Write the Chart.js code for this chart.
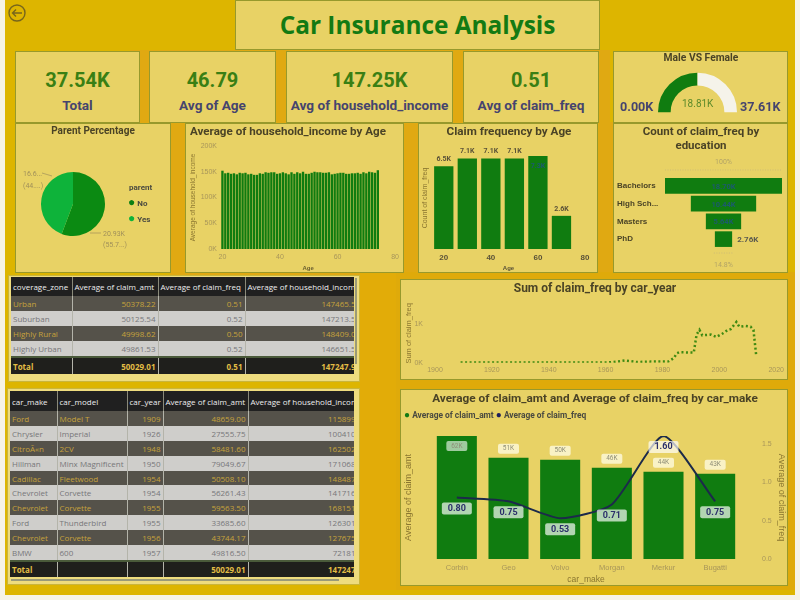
<!DOCTYPE html>
<html>
<head>
<meta charset="utf-8">
<title>Car Insurance Analysis</title>
<script src="https://cdn.jsdelivr.net/npm/chart.js@4.4.1/dist/chart.umd.min.js"></script>
<style>
  html, body { margin: 0; padding: 0; background: #f6f3e6; }
  body { width: 800px; height: 600px; position: relative; overflow: hidden; font-family: Roboto, sans-serif; }
  .abs { position: absolute; }
  .panel { position: absolute; box-sizing: border-box; background: #e8d265; border: 1px solid #97992c; }
  .panel canvas { position: absolute; left: 0; top: 0; }
  .title { position: absolute; white-space: nowrap; transform: translateX(-50%); font-weight: 700; color: #4a4326; text-align: center; line-height: 14px; }
  .kpi-num { position: absolute; left: 0; right: 0; text-align: center; top: 16px; font-weight: 700; font-size: 20px; color: #3a7f14; }
  .kpi-lab { position: absolute; left: 0; right: 0; text-align: center; top: 45px; font-weight: 700; font-size: 13.6px; color: #45446e; white-space: nowrap; }
  .txt { position: absolute; white-space: nowrap; }
  .tbl-wrap { position: absolute; overflow: hidden; }
  table { border-collapse: collapse; table-layout: fixed; font-size: 8px; font-family: "Open Sans", sans-serif; }
  td, th { padding: 0 2px; overflow: hidden; white-space: nowrap; box-sizing: border-box; font-weight: 400; }
  th { background: #202020; color: #eeeeee; text-align: left; border-right: 1px solid #8a8a7a; font-weight: 400; }
  td { border-right: 1px solid #b4b4aa; text-align: right; }
  td.l { text-align: left; }
  tr.dark td { background: #55524a; color: #c6a23c; }
  tr.light td { background: #cfcecb; color: #77777a; }
  tr.tot td { background: #1f1f1c; color: #e2bd45; font-weight: 700; }
</style>
</head>
<body>
<div class="abs" style="left:5px;top:0;width:790px;height:595px;background:#ddb500"></div>
<div class="abs" style="left:130px;top:50px;width:480px;height:75px;background:#e0a912"></div>
<div class="abs" style="left:170px;top:122px;width:450px;height:153px;background:#e0a912"></div>
<div class="abs" style="left:360px;top:272px;width:36px;height:318px;background:#e2ac08"></div>
<div class="abs" style="left:396px;top:272px;width:399px;height:318px;background:#dfaa0a"></div>

<svg class="abs" style="left:7px;top:3px" width="20" height="20" viewBox="0 0 20 20">
  <circle cx="10" cy="10" r="8" fill="none" stroke="#77661c" stroke-width="1.4"/>
  <path d="M15 10H5.5M9 6.5L5.5 10L9 13.5" fill="none" stroke="#77661c" stroke-width="1.4"/>
</svg>

<div class="panel" style="left:235px;top:0;width:365px;height:50px">
  <div class="txt" style="left:0;right:0;top:7px;text-align:center;font:700 24.4px 'Open Sans',sans-serif;color:#137a13">Car Insurance Analysis</div>
</div>

<div class="panel" style="left:15px;top:51px;width:125px;height:72px"><div class="kpi-num">37.54K</div><div class="kpi-lab">Total</div></div>
<div class="panel" style="left:149px;top:51px;width:127px;height:72px"><div class="kpi-num">46.79</div><div class="kpi-lab">Avg of Age</div></div>
<div class="panel" style="left:286px;top:51px;width:167px;height:72px"><div class="kpi-num">147.25K</div><div class="kpi-lab">Avg of household_income</div></div>
<div class="panel" style="left:463px;top:51px;width:136px;height:72px"><div class="kpi-num">0.51</div><div class="kpi-lab">Avg of claim_freq</div></div>

<div class="panel" style="left:613px;top:51px;width:175px;height:72px">
  <canvas id="gauge" width="173" height="70"></canvas>
  <div class="title" style="left:87px;top:-1px;font-size:10.3px;line-height:14px">Male VS Female</div>
  <div class="txt" style="left:6px;top:47px;font-weight:700;font-size:12.6px;color:#45446e">0.00K</div>
  <div class="txt" style="left:126px;top:47px;font-weight:700;font-size:12.6px;color:#45446e">37.61K</div>
  <div class="txt" style="left:68px;top:46px;font-size:10px;color:#5c8a2a">18.81K</div>
</div>

<div class="panel" style="left:15px;top:123px;width:156px;height:150px">
  <canvas id="pie" width="154" height="148"></canvas>
  <div class="title" style="left:77px;top:0;font-size:10px">Parent Percentage</div>
  <div class="txt" style="left:113px;top:59px;font-weight:700;font-size:8px;color:#4a4a40">parent</div>
  <div class="txt" style="left:112px;top:71px;font-weight:700;font-size:8px;color:#4a4a40"><span style="color:#0b7f12;font-size:12px">&#9679;</span> No</div>
  <div class="txt" style="left:112px;top:87px;font-weight:700;font-size:8px;color:#4a4a40"><span style="color:#0eb33a;font-size:12px">&#9679;</span> Yes</div>
</div>

<div class="panel" style="left:185px;top:123px;width:219px;height:150px">
  <canvas id="income" width="217" height="148"></canvas>
  <div class="title" style="left:102px;top:0;font-size:11.6px">Average of household_income by Age</div>
</div>

<div class="panel" style="left:418px;top:123px;width:180px;height:150px">
  <canvas id="ageFreq" width="178" height="148"></canvas>
  <div class="title" style="left:90px;top:0;font-size:11.7px">Claim frequency by Age</div>
</div>

<div class="panel" style="left:613px;top:123px;width:175px;height:150px">
  <canvas id="funnel" width="173" height="148"></canvas>
  <div class="title" style="left:87px;top:0;font-size:11.5px">Count of claim_freq by<br>education</div>
</div>

<div class="panel" style="left:8px;top:275px;width:352px;height:107px;background:#eedc7e;border-color:#c9b53c">
  <div class="tbl-wrap" id="zoneWrap" style="left:2px;top:1px;width:343px;height:99px"></div>
  <div class="abs" style="left:346px;top:2px;width:2px;height:86px;background:#9a9a78"></div>
</div>

<div class="panel" style="left:7px;top:388px;width:353px;height:197px;background:#eedc7e;border-color:#c9b53c">
  <div class="tbl-wrap" id="carWrap" style="left:2px;top:2px;width:344px;height:187px"></div>
  <div class="abs" style="left:3px;top:190px;width:328px;height:2px;background:#9a9a78"></div>
</div>

<div class="panel" style="left:400px;top:279px;width:388px;height:101px">
  <canvas id="yearLine" width="386" height="99"></canvas>
  <div class="title" style="left:194px;top:1px;font-size:12px">Sum of claim_freq by car_year</div>
</div>

<div class="panel" style="left:400px;top:389px;width:388px;height:197px">
  <canvas id="combo" width="386" height="195"></canvas>
  <div class="title" style="left:194px;top:1px;font-size:11.8px">Average of claim_amt and Average of claim_freq by car_make</div>
  <div class="txt" style="left:3px;top:19px;font-weight:700;font-size:8.4px;color:#4a4a40"><span style="color:#137a13;font-size:10px">&#9679;</span> Average of claim_amt <span style="color:#1f1f5c;font-size:10px">&#9679;</span> Average of claim_freq</div>
</div>

<script>
const GREEN = '#107c10';
const TICK = '#a8965a';
const AXIS = '#8a7630';
const NOGRID = { display: false, drawTicks: false };

// gauge
const genderValues = [18810, 18800];

// parent pie
const parentLabels = ['No', 'Yes'];
const parentValues = [20930, 16610];

// income by age, 20..74
const incomeAges = [20,21,22,23,24,25,26,27,28,29,30,31,32,33,34,35,36,37,38,39,40,41,42,43,44,45,46,47,48,49,50,51,52,53,54,55,56,57,58,59,60,61,62,63,64,65,66,67,68,69,70,71,72,73,74];
const incomeValues = [152000,147000,148000,146000,147000,145000,148000,147000,148000,145000,146000,144000,144000,147000,146000,149000,148000,149000,149000,146000,147000,149000,147000,145000,149000,146000,149000,147000,150000,146000,146000,148000,150000,149000,149000,148000,148000,149000,145000,146000,147000,148000,148000,146000,146000,147000,147000,148000,146000,149000,147000,150000,149000,148000,153000];
const incomeTicks = [0, 50000, 100000, 150000, 200000];
const ageTicks = [20, 40, 60, 80];

// claim frequency by age bin
const binAges = [20, 30, 40, 50, 60, 70];
const binValues = [6500, 7100, 7100, 7100, 7300, 2600];

// funnel
const eduLabels = ['Bachelors', 'High Sch...', 'Masters', 'PhD'];
const eduValues = [18700, 10440, 5640, 2760];
const eduText = ['18.70K', '10.44K', '5.64K', '2.76K'];

// claim_freq by car_year
const carYears = [1909,1913,1917,1921,1925,1929,1933,1937,1941,1945,1949,1953,1957,1961,1964,1967,1971,1976,1982,1984,1985,1986,1991,1992,1993,1994,1997,1999,2001,2003,2004,2006,2007,2009,2011,2012,2013];
const yearValues = [0.01,0.01,0.01,0.01,0.01,0.01,0.01,0.01,0.01,0.01,0.01,0.01,0.01,0.01,0.03,0.06,0.02,0.03,0.03,0.12,0.24,0.27,0.26,0.72,0.84,0.70,0.72,0.66,0.74,0.84,0.86,1.04,0.92,0.94,0.92,0.84,0.16];
const yearTicks = [1900, 1920, 1940, 1960, 1980, 2000, 2020];

// combo chart
const makes = ['Corbin', 'Geo', 'Volvo', 'Morgan', 'Merkur', 'Bugatti'];
const claimAmt = [62000, 51000, 50000, 46000, 44000, 43000];
const claimFreq = [0.80, 0.75, 0.53, 0.71, 1.60, 0.75];
const freqTicks = [0, 0.5, 1.0, 1.5];

// tables
const zoneHead = ['coverage_zone', 'Average of claim_amt', 'Average of claim_freq', 'Average of household_income'];
const zones = ['Urban', 'Suburban', 'Highly Rural', 'Highly Urban'];
const zoneAmt = ['50378.22', '50125.54', '49998.62', '49861.53'];
const zoneFreq = ['0.51', '0.52', '0.50', '0.52'];
const zoneIncome = ['147465.5', '147213.5', '148409.0', '146651.5'];
const zoneTotal = ['Total', '50029.01', '0.51', '147247.9'];

const carHead = ['car_make', 'car_model', 'car_year', 'Average of claim_amt', 'Average of household_income'];
const carMakes = ['Ford', 'Chrysler', 'CitroÃ«n', 'Hillman', 'Cadillac', 'Chevrolet', 'Chevrolet', 'Ford', 'Chevrolet', 'BMW'];
const carModels = ['Model T', 'Imperial', '2CV', 'Minx Magnificent', 'Fleetwood', 'Corvette', 'Corvette', 'Thunderbird', 'Corvette', '600'];
const carYearCol = ['1909', '1926', '1948', '1950', '1954', '1954', '1955', '1955', '1956', '1957'];
const carAmt = ['48659.00', '27555.75', '58481.60', '79049.67', '50508.10', '56261.43', '59563.50', '33685.60', '43744.17', '49816.50'];
const carIncome = ['115899', '100410', '162502', '171068', '148487', '141716', '168151', '126301', '127675', '72181'];
const carTotal = ['Total', '', '', '50029.01', '147247'];

function makeTable(host, widths, head, rows, total, leftCols, headH, rowH, totH, gap) {
  const tot = widths.reduce((a, b) => a + b, 0);
  let h = `<table style="width:${tot}px"><colgroup>` + widths.map(w => `<col style="width:${w}px">`).join('') + '</colgroup>';
  h += `<tr style="height:${headH}px">` + head.map(t => `<th>${t}</th>`).join('') + '</tr>';
  rows.forEach((r, i) => {
    h += `<tr class="${i % 2 ? 'light' : 'dark'}" style="height:${rowH}px">` + r.map((t, c) => `<td class="${c < leftCols ? 'l' : ''}">${t}</td>`).join('') + '</tr>';
  });
  h += `<tr style="height:${gap}px"><td colspan="${head.length}" style="background:#4a5a3a;border:0"></td></tr>`;
  h += `<tr class="tot" style="height:${totH}px">` + total.map((t, c) => `<td class="${c < leftCols ? 'l' : ''}">${t}</td>`).join('') + '</tr></table>';
  document.getElementById(host).innerHTML = h;
}

makeTable('zoneWrap', [61, 86, 87, 113], zoneHead,
  zones.map((z, i) => [z, zoneAmt[i], zoneFreq[i], zoneIncome[i]]), zoneTotal, 1, 19, 15, 16, 2);
makeTable('carWrap', [47, 70, 36, 85, 110], carHead,
  carMakes.map((m, i) => [m, carModels[i], carYearCol[i], carAmt[i], carIncome[i]]), carTotal, 2, 20, 14.9, 15, 2);

// fix plot area: width of y axes, height of x axis
function fitW(w) { return s => { s.width = w; }; }
function fitH(h) { return s => { s.height = h; }; }
function setTicks(list) { return s => { s.ticks = list.map(v => ({ value: v })); }; }
const kLabel = v => (v / 1000) + 'K';

new Chart(document.getElementById('gauge'), {
  type: 'doughnut',
  data: { datasets: [{ data: genderValues, backgroundColor: [GREEN, '#f5f3ea'], borderWidth: 0 }] },
  options: {
    responsive: false, animation: false, rotation: -90, circumference: 180, cutout: '68%',
    layout: { padding: { left: 44, right: 50, top: 20, bottom: 9 } },
    plugins: { legend: { display: false }, tooltip: { enabled: false } }
  }
});

const pieLabels = {
  id: 'pieLabels',
  afterDraw(chart) {
    const c = chart.ctx;
    c.save();
    c.font = '7px Roboto'; c.fillStyle = '#a0905a'; c.strokeStyle = '#a0905a'; c.lineWidth = 0.7;
    c.fillText('20.93K', 87, 112); c.fillText('(55.7...)', 87, 123);
    c.fillText('16.6...', 7, 52); c.fillText('(44....)', 7, 64);
    c.beginPath(); c.moveTo(74, 109); c.lineTo(85, 109); c.moveTo(26, 49); c.lineTo(36, 52); c.stroke();
    c.restore();
  }
};
new Chart(document.getElementById('pie'), {
  type: 'pie',
  data: { labels: parentLabels, datasets: [{ data: parentValues, backgroundColor: ['#0b8a12', '#0eb33a'], borderWidth: 0 }] },
  options: {
    responsive: false, animation: false,
    layout: { padding: { left: 25, right: 65, top: 48, bottom: 36 } },
    plugins: { legend: { display: false }, tooltip: { enabled: false } }
  },
  plugins: [pieLabels]
});

new Chart(document.getElementById('income'), {
  type: 'bar',
  data: { datasets: [{ data: incomeValues.map((v, i) => ({ x: incomeAges[i], y: v })), backgroundColor: GREEN, barPercentage: 0.82, categoryPercentage: 1 }] },
  options: {
    responsive: false, animation: false,
    layout: { padding: { top: 22, right: 6 } },
    plugins: { legend: { display: false }, tooltip: { enabled: false } },
    scales: {
      x: { type: 'linear', offset: false, min: 19.5, max: 80, grid: NOGRID, border: { display: false }, afterFit: fitH(23), afterBuildTicks: setTicks(ageTicks),
        ticks: { color: TICK, font: { size: 7 }, padding: 4, maxRotation: 0 },
        title: { display: true, text: 'Age', color: '#6a5f30', font: { size: 6, weight: 'bold' }, padding: 0 } },
      y: { min: 0, max: 200000, grid: NOGRID, border: { display: false }, afterFit: fitW(35), afterBuildTicks: setTicks(incomeTicks),
        ticks: { color: TICK, font: { size: 7 }, padding: 4, callback: kLabel },
        title: { display: true, text: 'Average of household_income', color: '#8a7630', font: { size: 6.5 }, padding: { top: 3, bottom: 0 } } }
    }
  }
});

const binLabels = {
  id: 'binLabels',
  afterDatasetsDraw(chart) {
    const c = chart.ctx;
    c.save(); c.font = 'bold 7px Roboto'; c.textAlign = 'center';
    chart.getDatasetMeta(0).data.forEach((b, i) => {
      const inside = i === 4;
      c.fillStyle = inside ? '#1c5a6e' : '#5a5238';
      c.fillText((binValues[i] / 1000).toFixed(1) + 'K', b.x, inside ? b.y + 12 : b.y - 5);
    });
    c.restore();
  }
};
new Chart(document.getElementById('ageFreq'), {
  type: 'bar',
  data: { datasets: [{ data: binValues.map((v, i) => ({ x: binAges[i], y: v })), backgroundColor: GREEN, barPercentage: 0.82, categoryPercentage: 1 }] },
  options: {
    responsive: false, animation: false,
    layout: { padding: { top: 23, right: 12 } },
    plugins: { legend: { display: false }, tooltip: { enabled: false } },
    scales: {
      x: { type: 'linear', offset: false, min: 15, max: 80, grid: NOGRID, border: { display: false }, afterFit: fitH(23), afterBuildTicks: setTicks(ageTicks),
        ticks: { color: '#5a5238', font: { size: 8, weight: 'bold' }, padding: 4, maxRotation: 0 },
        title: { display: true, text: 'Age', color: '#5a5238', font: { size: 6, weight: 'bold' }, padding: 0 } },
      y: { min: 0, max: 8000, grid: NOGRID, border: { display: false }, afterFit: fitW(13),
        ticks: { display: false },
        title: { display: true, text: 'Count of claim_freq', color: '#8a7630', font: { size: 7 }, padding: { top: 2, bottom: 0 } } }
    }
  },
  plugins: [binLabels]
});

const funnelLabels = {
  id: 'funnelLabels',
  afterDraw(chart) {
    const c = chart.ctx, area = chart.chartArea;
    const last = chart.getDatasetMeta(0).data[3];
    c.save(); c.textAlign = 'center'; c.font = '7px Roboto'; c.fillStyle = '#b3a467';
    c.fillText('100%', (area.left + area.right) / 2, 40);
    c.fillText('14.8%', (area.left + area.right) / 2, 143);
    c.strokeStyle = '#c8b97a'; c.setLineDash([1, 1.5]); c.lineWidth = 0.8;
    c.beginPath(); c.moveTo(area.left, 46); c.lineTo(area.right, 46); c.moveTo(last.base - 1, 129); c.lineTo(last.x + 1, 129); c.stroke();
    c.setLineDash([]);
    chart.getDatasetMeta(0).data.forEach((b, i) => {
      const y = b.y + 3;
      if (i === 3) { c.fillStyle = '#5a5a50'; c.font = 'bold 8px Roboto'; c.textAlign = 'left'; c.fillText(eduText[i], b.x + 5, y); }
      else { c.fillStyle = '#1c5a6e'; c.font = 'bold 7.5px Roboto'; c.textAlign = 'center'; c.fillText(eduText[i], (area.left + area.right) / 2, y); }
    });
    c.restore();
  }
};
const halfMax = eduValues[0] / 2;
new Chart(document.getElementById('funnel'), {
  type: 'bar',
  data: { labels: eduLabels, datasets: [{ data: eduValues.map(v => [-v / 2, v / 2]), backgroundColor: GREEN, barPercentage: 0.88, categoryPercentage: 1 }] },
  options: {
    indexAxis: 'y', responsive: false, animation: false,
    layout: { padding: { left: 3, top: 53, right: 5, bottom: 24 } },
    plugins: { legend: { display: false }, tooltip: { enabled: false } },
    scales: {
      x: { min: -halfMax, max: halfMax, display: false },
      y: { grid: NOGRID, border: { display: false }, afterFit: fitW(48),
        ticks: { color: '#4a4326', font: { size: 8, weight: 'bold' }, crossAlign: 'far', padding: 0, autoSkip: false } }
    }
  },
  plugins: [funnelLabels]
});

new Chart(document.getElementById('yearLine'), {
  type: 'line',
  data: { datasets: [{ data: carYears.map((y, i) => ({ x: y, y: yearValues[i] })), borderColor: '#3f8a12', borderWidth: 2.5, borderDash: [2, 2.5], pointRadius: 0, tension: 0 }] },
  options: {
    responsive: false, animation: false,
    layout: { padding: { top: 24, right: 9 } },
    plugins: { legend: { display: false }, tooltip: { enabled: false } },
    scales: {
      x: { type: 'linear', min: 1900, max: 2020, grid: NOGRID, border: { display: false }, afterFit: fitH(12), afterBuildTicks: setTicks(yearTicks),
        ticks: { color: TICK, font: { size: 7 }, padding: 3, maxRotation: 0, callback: v => String(v) } },
      y: { min: 0, max: 1.5, grid: NOGRID, border: { display: false }, afterFit: fitW(34), afterBuildTicks: setTicks([0, 1]),
        ticks: { color: TICK, font: { size: 7 }, padding: 12, callback: v => v + 'K' },
        title: { display: true, text: 'Sum of claim_freq', color: AXIS, font: { size: 7.5 }, padding: { top: 3, bottom: 0 } } }
    }
  }
});

function roundBox(c, cx, cy, w, h, fill) {
  c.fillStyle = fill;
  c.beginPath(); c.roundRect(cx - w / 2, cy - h / 2, w, h, 2); c.fill();
}
const comboLabels = {
  id: 'comboLabels',
  afterDraw(chart) {
    const c = chart.ctx;
    c.save(); c.textAlign = 'center'; c.textBaseline = 'middle';
    chart.getDatasetMeta(1).data.forEach((b, i) => {
      const inside = i === 0;
      const y = inside ? b.y + 10 : b.y - 9;
      roundBox(c, b.x, y, 21, 10, inside ? 'rgba(255,255,255,0.6)' : 'rgba(255,252,230,0.75)');
      c.font = '6.5px Roboto'; c.fillStyle = '#8f8f78';
      c.fillText(Math.round(claimAmt[i] / 1000) + 'K', b.x, y);
    });
    chart.getDatasetMeta(0).data.forEach((p, i) => {
      const y = p.y + 11;
      roundBox(c, p.x, y, 30, 12, 'rgba(255,255,255,0.68)');
      c.font = 'bold 9px Roboto'; c.fillStyle = '#2b2f6a';
      c.fillText(claimFreq[i].toFixed(2), p.x, y);
    });
    c.restore();
  }
};
new Chart(document.getElementById('combo'), {
  data: {
    labels: makes,
    datasets: [
      { type: 'line', data: claimFreq, yAxisID: 'y1', borderColor: '#1c2a4a', borderWidth: 2, pointRadius: 0, tension: 0.2, order: 0 },
      { type: 'bar', data: claimAmt, yAxisID: 'y', backgroundColor: GREEN, barPercentage: 0.775, categoryPercentage: 1, order: 1 }
    ]
  },
  options: {
    responsive: false, animation: false,
    layout: { padding: { top: 46 } },
    plugins: { legend: { display: false }, tooltip: { enabled: false } },
    scales: {
      x: { grid: NOGRID, border: { display: false }, afterFit: fitH(26),
        ticks: { color: TICK, font: { size: 7.5 }, padding: 4, maxRotation: 0 },
        title: { display: true, text: 'car_make', color: AXIS, font: { size: 8.5 }, padding: 0 } },
      y: { min: 0, max: 62000, grid: NOGRID, border: { display: false }, afterFit: fitW(30),
        ticks: { display: false },
        title: { display: true, text: 'Average of claim_amt', color: AXIS, font: { size: 9 }, padding: { top: 2, bottom: 0 } } },
      y1: { position: 'right', min: 0, max: 1.6, grid: NOGRID, border: { display: false }, afterFit: fitW(46), afterBuildTicks: setTicks(freqTicks),
        ticks: { color: TICK, font: { size: 7 }, padding: 21, callback: v => v.toFixed(1) },
        title: { display: true, text: 'Average of claim_freq', color: AXIS, font: { size: 9 }, padding: { top: 0, bottom: 2 } } }
    }
  },
  plugins: [comboLabels]
});
</script>
</body>
</html>
